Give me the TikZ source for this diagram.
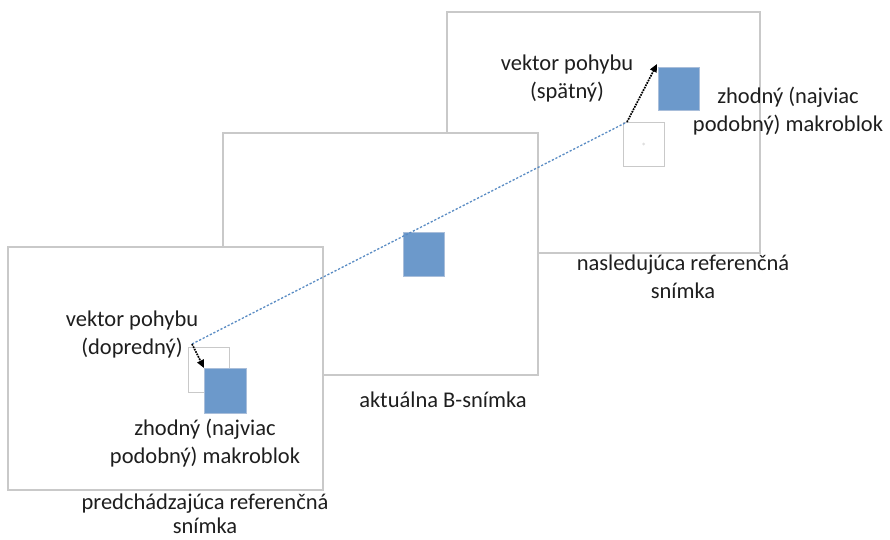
\documentclass[tikz,border=0pt]{standalone}
\usepackage{fontspec}
\setmainfont{Carlito}
\usetikzlibrary{arrows.meta}
\definecolor{framegray}{HTML}{C9C9C9}
\definecolor{blockblue}{HTML}{6C99CB}
\definecolor{blockedge}{HTML}{A9BEDA}
\definecolor{lineblue}{HTML}{5A8CC4}
\definecolor{txt}{HTML}{1E1E1E}
\tikzset{
  frame/.style={draw=framegray, line width=1.5pt, fill=white},
  blockfill/.style={draw=blockedge, line width=1.2pt, fill=blockblue},
  blockempty/.style={draw=framegray, line width=1.2pt, fill=white},
  lbl/.style={text=txt, font=\fontsize{22.5}{28}\selectfont, align=center, inner sep=0pt},
  mv/.style={densely dotted, line width=1.7pt, -{Triangle[length=8pt,width=7pt]}},
  path/.style={dash pattern=on 2.2pt off 1.8pt, line width=1.3pt, draw=lineblue}
}
\begin{document}
\begin{tikzpicture}[x=1pt,y=-1pt]
\useasboundingbox (0,0) rectangle (890,539);
% frames
\draw[frame] (447,12) rectangle (760,253);
\draw[frame] (223,133) rectangle (538,375);
\draw[frame] (8,247) rectangle (323,490);
% frame 3 blocks
\node[blockempty, minimum width=41pt, minimum height=44pt, inner sep=0pt, anchor=north west] (b3e) at (623,122) {};
\fill[framegray!60] (643.5,144) circle (1.5pt);
\node[blockfill, minimum width=41pt, minimum height=43pt, inner sep=0pt, anchor=north west] (b3) at (658,67) {};
% frame 2 block
\node[blockfill, minimum width=41pt, minimum height=44pt, inner sep=0pt, anchor=north west] (b2) at (403,232) {};
% frame 1 blocks
\node[blockempty, minimum width=41pt, minimum height=45pt, inner sep=0pt, anchor=north west] (b1e) at (188,347) {};
\node[blockfill, minimum width=42pt, minimum height=45pt, inner sep=0pt, anchor=north west] (b1) at (204,368) {};
% connector points
\coordinate (p1) at (192,344);
\coordinate (p3) at (627,122);
\draw[path] (p1) -- (p3);
\draw[mv] (p1) -- (b1.north west);
\draw[mv] (p3) -- ([xshift=-1pt,yshift=3pt]b3.north west);
% labels
\node[lbl] (t1) at (567,78) {vektor pohybu\\(spätný)};
\node[lbl] (t2) at (788,111) {zhodný (najviac\\podobný) makroblok};
\node[lbl] (t3) at (683,277) {nasledujúca referenčná\\snímka};
\node[lbl] (t4) at (443,400) {aktuálna B-snímka};
\node[lbl] (t5) at (132,334) {vektor pohybu\\(dopredný)};
\node[lbl] (t6) at (205,443) {zhodný (najviac\\podobný) makroblok};
\node[lbl, font=\fontsize{22.5}{24}\selectfont] (t7) at (205,513.5) {predchádzajúca referenčná\\snímka};
\end{tikzpicture}
\end{document}
